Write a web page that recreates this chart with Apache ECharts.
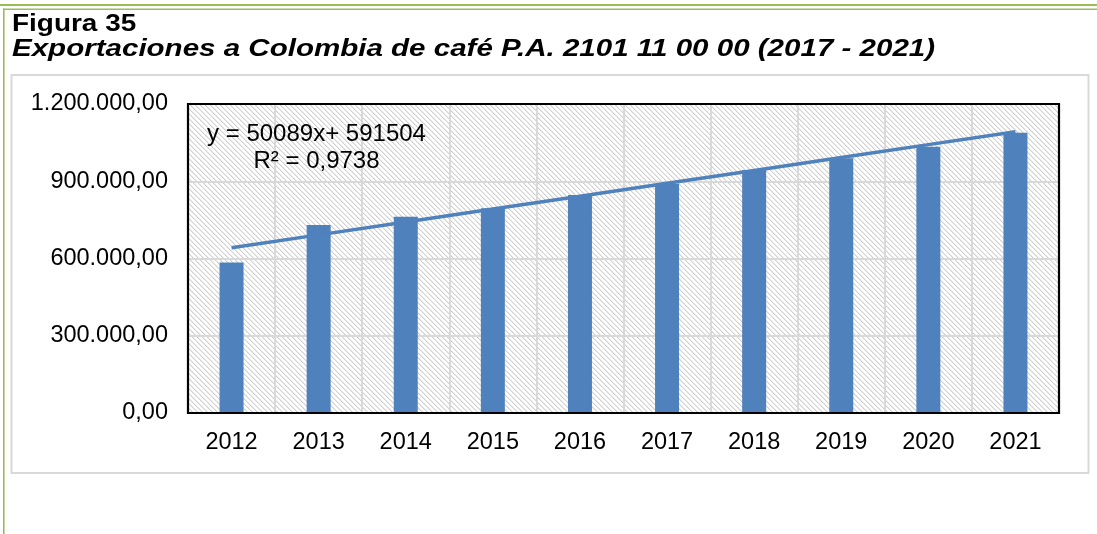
<!DOCTYPE html>
<html>
<head>
<meta charset="utf-8">
<title>Exportaciones a Colombia de café P.A. 2101 11 00 00</title>
<script src="https://cdn.jsdelivr.net/npm/echarts@6/dist/echarts.min.js"></script>
<style>
  html, body { margin: 0; padding: 0; background: #ffffff; }
  #chart { width: 1097px; height: 534px; }
</style>
</head>
<body>
<div id="chart"></div>
<script>
// Annual export values (USD) per year
const years = ['2012', '2013', '2014', '2015', '2016', '2017', '2018', '2019', '2020', '2021'];
const exportValues = [584000, 730000, 762000, 795000, 847000, 890000, 944000, 989000, 1034000, 1088000];

// Value axis ticks
const yMin = 0;
const yMax = 1200000;
const yInterval = 300000;

// Linear trend line as stated on the chart: y = a·x + b, x = 1..n
const trendSlope = 50089;
const trendIntercept = 591504;
const trendR2 = '0,9738';

const figureLabel = 'Figura 35';
const figureTitle = 'Exportaciones a Colombia de café P.A. 2101 11 00 00 (2017 - 2021)';

const trendValues = years.map((_, i) => trendSlope * (i + 1) + trendIntercept);

// Spanish number format: 1.200.000,00
function formatEs(v) {
  const parts = Number(v).toFixed(2).split('.');
  const intPart = parts[0].replace(/\B(?=(\d{3})+(?!\d))/g, '.');
  return intPart + ',' + parts[1];
}

// Diagonal hatch used as plot background
function hatchPattern() {
  const size = 10;
  const period = 5;
  const c = document.createElement('canvas');
  c.width = size; c.height = size;
  const g = c.getContext('2d');
  const img = g.createImageData(size, size);
  for (let y = 0; y < size; y++) {
    for (let x = 0; x < size; x++) {
      const d = (((x - y) % period) + period) % period;
      const v = d === 0 ? 208 : (d === 1 ? 234 : 255);
      const k = (y * size + x) * 4;
      img.data[k] = v; img.data[k + 1] = v; img.data[k + 2] = v; img.data[k + 3] = 255;
    }
  }
  g.putImageData(img, 0, 0);
  return { image: c, repeat: 'repeat' };
}

const BLUE = '#4f81bd';
const GREEN = '#9bbb59';
const FONT = '"Liberation Sans", Arial, sans-serif';

// plot area box
const plot = { left: 188, top: 104, width: 871, height: 309 };

const chart = echarts.init(document.getElementById('chart'), null, { renderer: 'canvas' });

chart.setOption({
  animation: false,
  backgroundColor: '#ffffff',
  textStyle: { fontFamily: FONT },
  grid: {
    left: plot.left, top: plot.top, width: plot.width, height: plot.height,
    show: true,
    backgroundColor: hatchPattern(),
    borderWidth: 0,
    containLabel: false
  },
  xAxis: {
    type: 'category',
    data: years,
    boundaryGap: true,
    axisLine: { show: false },
    axisTick: { show: false },
    axisLabel: { color: '#000', fontSize: 23.5, fontFamily: FONT, margin: 18 },
    splitLine: { show: true, lineStyle: { color: '#d9d9d9', width: 2 } }
  },
  yAxis: {
    type: 'value',
    min: yMin, max: yMax, interval: yInterval,
    axisLine: { show: false },
    axisTick: { show: false },
    axisLabel: { color: '#000', fontSize: 23.5, fontFamily: FONT, margin: 20, formatter: formatEs },
    splitLine: { show: true, lineStyle: { color: '#d9d9d9', width: 2 } }
  },
  series: [
    {
      name: 'Exportaciones',
      type: 'bar',
      data: exportValues,
      barWidth: 24,
      itemStyle: { color: BLUE },
      z: 2
    },
    {
      name: 'Lineal (Exportaciones)',
      type: 'line',
      data: trendValues,
      symbol: 'none',
      lineStyle: { color: BLUE, width: 3.5 },
      z: 3
    }
  ],
  graphic: [
    // page rules
    { type: 'rect', shape: { x: 0, y: 4, width: 1097, height: 2 }, style: { fill: GREEN }, silent: true },
    { type: 'rect', shape: { x: 3, y: 8.5, width: 1094, height: 1.5 }, style: { fill: GREEN }, silent: true },
    { type: 'rect', shape: { x: 3, y: 8.5, width: 1.6, height: 526 }, style: { fill: GREEN }, silent: true },
    // chart frame
    { type: 'rect', shape: { x: 11.5, y: 75, width: 1077, height: 398 },
      style: { fill: 'none', stroke: '#d9d9d9', lineWidth: 2 }, silent: true, z: -1 },
    // plot area border, on top of gridlines and bars
    { type: 'rect', shape: { x: plot.left, y: plot.top, width: plot.width, height: plot.height },
      style: { fill: 'none', stroke: '#000000', lineWidth: 2.2 }, silent: true, z: 100 },
    // headings
    { type: 'text', x: 12, y: 24.5, scaleX: 1.215, silent: true,
      style: { text: figureLabel, fill: '#000', font: 'bold 23px ' + FONT, verticalAlign: 'middle', align: 'left' } },
    { type: 'text', x: 12, y: 50, scaleX: 1.284, silent: true,
      style: { text: figureTitle, fill: '#000', font: 'italic bold 23px ' + FONT, verticalAlign: 'middle', align: 'left' } },
    // trend equation
    { type: 'text', x: 316.5, y: 121, silent: true, z: 10,
      style: {
        text: 'y = ' + trendSlope + 'x+ ' + trendIntercept + '\nR² = ' + trendR2,
        fill: '#000', font: '24px ' + FONT, align: 'center', verticalAlign: 'top', lineHeight: 27
      } }
  ]
});
</script>
</body>
</html>
